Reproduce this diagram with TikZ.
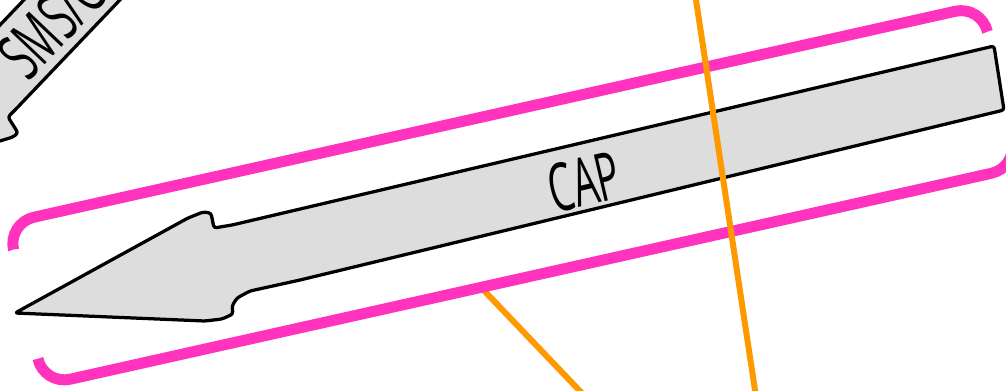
\documentclass[tikz,border=0pt]{standalone}
\usepackage{fontspec}
\newfontfamily\sketchfont{Open Sans}[FakeStretch=0.58]
\usetikzlibrary{calc}
\definecolor{frameColor}{RGB}{255,51,190}
\definecolor{linkColor}{RGB}{255,153,0}
\definecolor{boxFill}{RGB}{221,221,221}

\begin{document}
\begin{tikzpicture}[x=0.02cm, y=-0.02cm,
    arrowshape/.style={draw=black, fill=boxFill, line width=0.065cm, line join=round, rounded corners=1.5pt},
    bracket/.style={draw=frameColor, line width=0.22cm, rounded corners=0.54cm},
    link/.style={draw=linkColor, line width=0.12cm},
    label/.style={font=\sketchfont\fontsize{38}{42}\selectfont, inner sep=0pt}]
  \useasboundingbox (0,0) rectangle (1006,390);
  \clip (0,0) rectangle (1006,390);

  % SMS arrow, cut off by the border
  \draw[arrowshape] (137,-18) -- (15,110) -- (8,117) -- (15,128) -- (18,133) -- (13,137)
    -- (-30,150) -- (-28,54) -- (0,25) -- (41,-18) -- cycle;
  \node[label, rotate=46.4] (sms) at (51,24) {SMS/C};

  % open frame round CAP
  \begin{scope}[shift={(7.6,223.1)}, rotate=12.6]
    \coordinate (frameLink) at (448,166);
    \draw[link] (frameLink) -- (601,420);
    \draw[bracket] (0,27) -- (0,0) -- (998,0) -- (998,27);
    \draw[bracket] (0,139) -- (0,166) -- (998,166) -- (998,139);
  \end{scope}
  \coordinate (linkEnd) at (601,420);

  % CAP arrow
  \draw[arrowshape] (15,313) -- (188,218) -- (203,212) -- (211,213) -- (214,228) -- (232,225)
    -- (994,46) -- (1004,110) -- (300,280) -- (250,291) -- (237,298) -- (232,306)
    -- (233,314) -- (222,319) -- (205,321) -- cycle;
  \node[label, rotate=13.2] (cap) at (584,182) {CAP};

  % line passing over
  \coordinate (passTop) at (691.5,-30);
  \coordinate (passBottom) at (759.5,420);
  \draw[link] (passTop) -- (passBottom);
\end{tikzpicture}
\end{document}
